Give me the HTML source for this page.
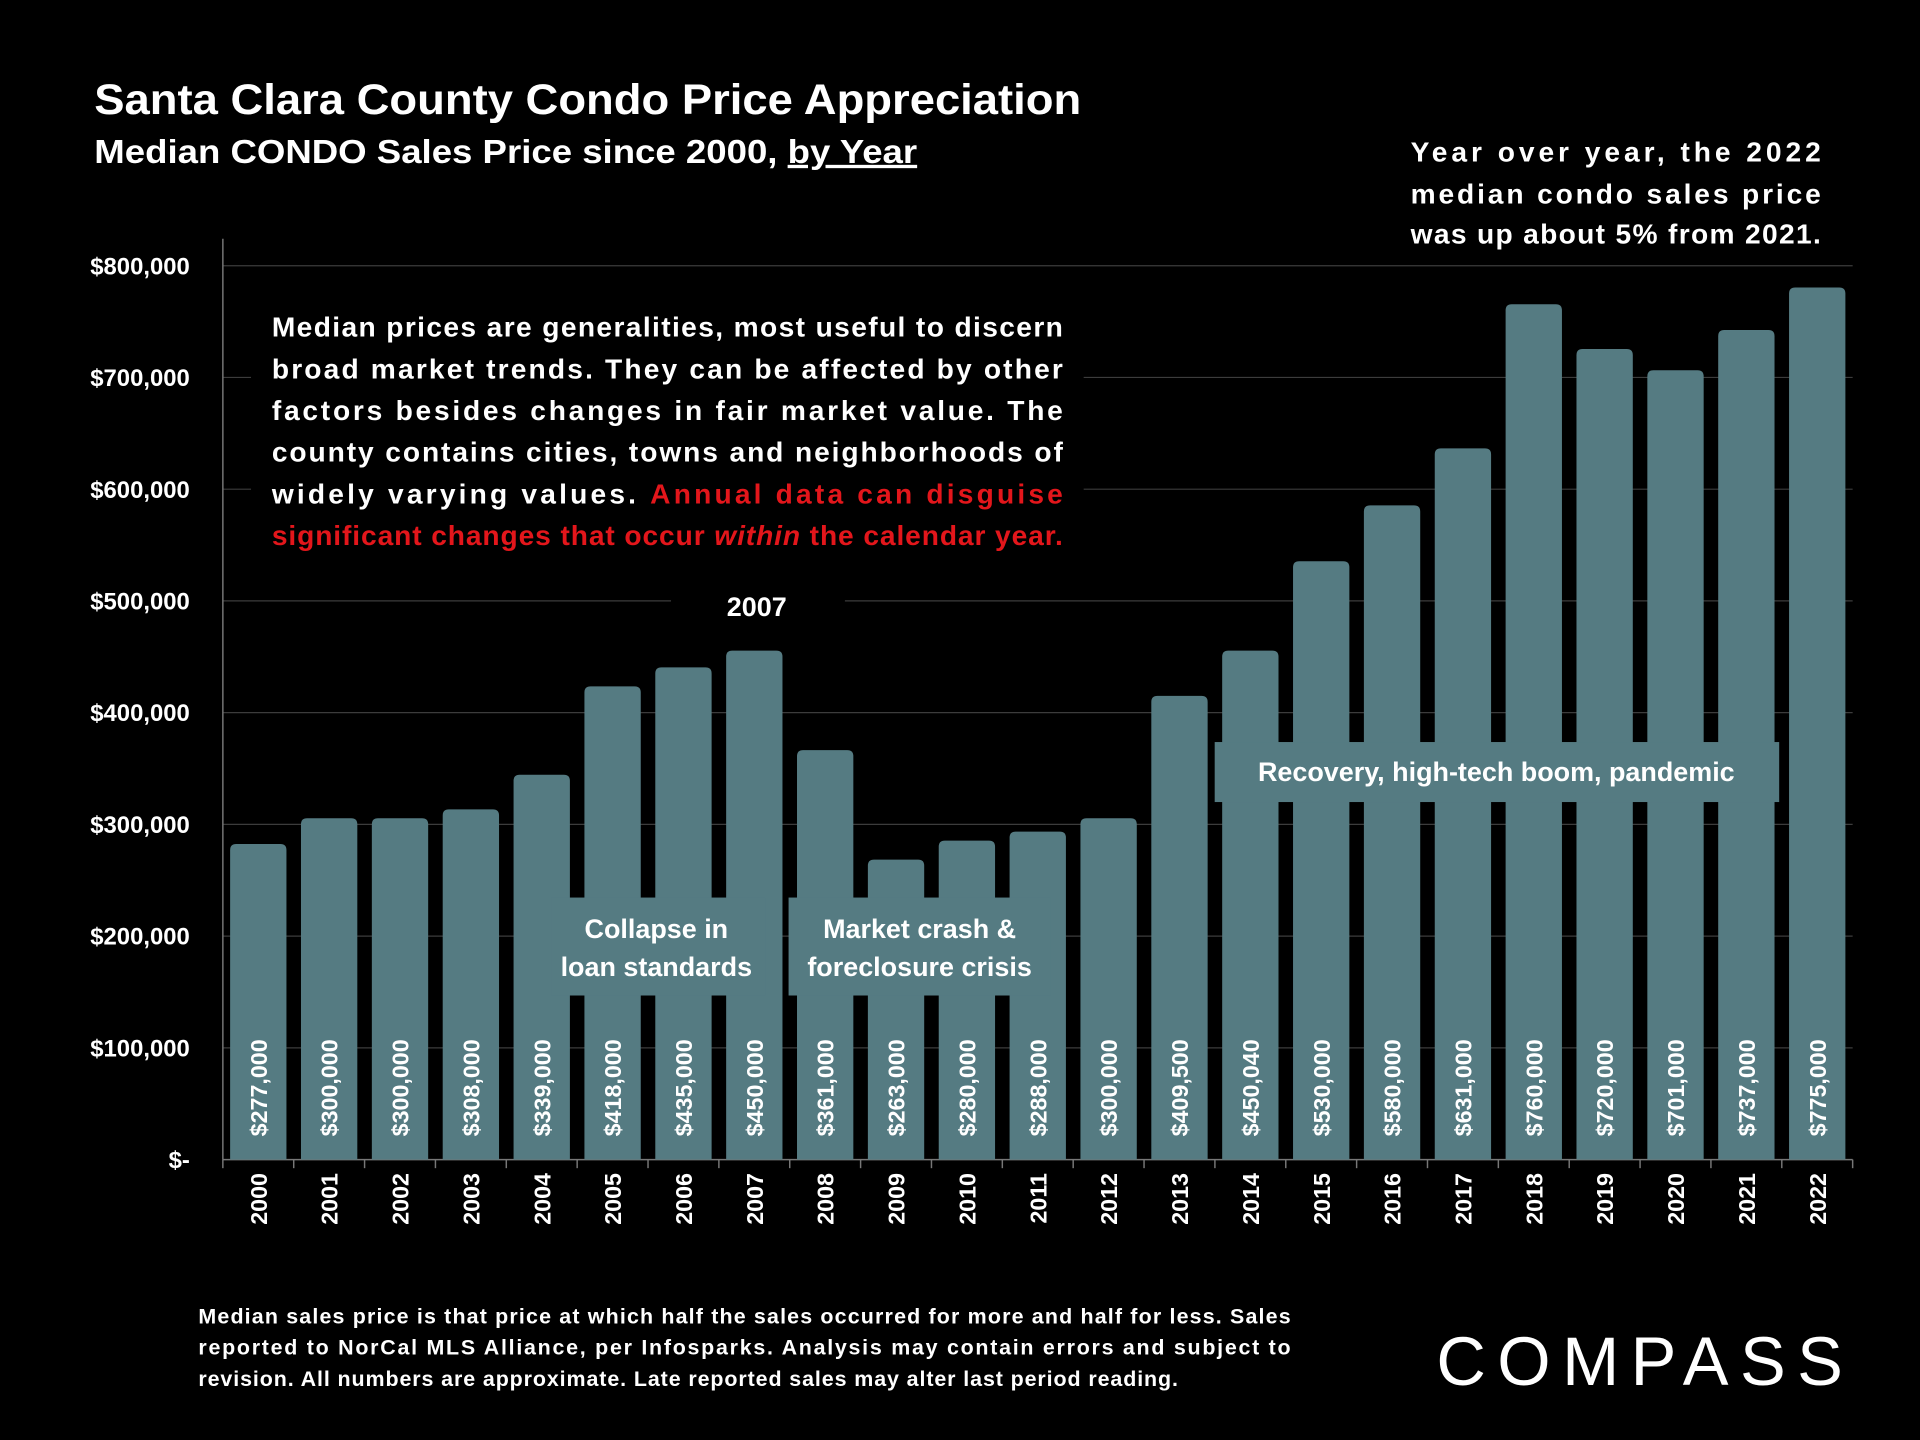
<!DOCTYPE html>
<html><head><meta charset="utf-8"><style>
html,body{margin:0;padding:0;background:#000;}
svg{display:block;font-family:"Liberation Sans",sans-serif;font-weight:bold;}
</style></head><body>
<svg id="chart" width="1920" height="1440" viewBox="0 0 1568 1176" xmlns="http://www.w3.org/2000/svg">
<rect x="0" y="0" width="1568" height="1176" fill="#000"/>
<g id="grid"></g>
<g id="bars"></g>
<text x="77" y="93" fill="#fff" font-size="35" textLength="806" lengthAdjust="spacingAndGlyphs">Santa Clara County Condo Price Appreciation</text>
<text x="77" y="133" fill="#fff" font-size="27" textLength="672" lengthAdjust="spacingAndGlyphs">Median CONDO Sales Price since 2000, <tspan text-decoration="underline">by Year</tspan></text>
<g fill="#fff" font-size="23">
<text x="1152" y="132" textLength="335" lengthAdjust="spacing">Year over year, the 2022</text>
<text x="1152" y="166" textLength="335" lengthAdjust="spacing">median condo sales price</text>
<text x="1152" y="199" textLength="335" lengthAdjust="spacing">was up about 5% from 2021.</text>
</g>
<rect x="205" y="245" width="680" height="215" fill="#000"/>
<g fill="#fff" font-size="23">
<text x="222" y="275" textLength="646" lengthAdjust="spacing">Median prices are generalities, most useful to discern</text>
<text x="222" y="309" textLength="646" lengthAdjust="spacing">broad market trends. They can be affected by other</text>
<text x="222" y="343" textLength="646" lengthAdjust="spacing">factors besides changes in fair market value. The</text>
<text x="222" y="377" textLength="646" lengthAdjust="spacing">county contains cities, towns and neighborhoods of</text>
<text x="222" y="411" textLength="646" lengthAdjust="spacing">widely varying values. <tspan fill="#e3161b">Annual data can disguise</tspan></text>
<text x="222" y="445" textLength="646" lengthAdjust="spacing" fill="#e3161b">significant changes that occur <tspan font-style="italic">within</tspan> the calendar year.</text>
</g>
<rect x="548" y="478" width="142" height="30" fill="#000"/>
<text x="618" y="503" fill="#fff" font-size="22" text-anchor="middle">2007</text>
<g id="annos"></g>
<g fill="#fff" font-size="17.5">
<text x="162" y="1081" textLength="892" lengthAdjust="spacing">Median sales price is that price at which half the sales occurred for more and half for less. Sales</text>
<text x="162" y="1106" textLength="892" lengthAdjust="spacing">reported to NorCal MLS Alliance, per Infosparks. Analysis may contain errors and subject to</text>
<text x="162" y="1132" textLength="800" lengthAdjust="spacing">revision. All numbers are approximate. Late reported sales may alter last period reading.</text>
</g>
<text x="1173" y="1131" fill="#fff" font-size="56" font-weight="normal" textLength="332" lengthAdjust="spacing">COMPASS</text>
</svg>
<script>
const years = ["2000","2001","2002","2003","2004","2005","2006","2007","2008","2009","2010","2011","2012","2013","2014","2015","2016","2017","2018","2019","2020","2021","2022"];
const prices = [277000,300000,300000,308000,339000,418000,435000,450000,361000,263000,280000,288000,300000,409500,450040,530000,580000,631000,760000,720000,701000,737000,775000];
const priceLabels = ["$277,000","$300,000","$300,000","$308,000","$339,000","$418,000","$435,000","$450,000","$361,000","$263,000","$280,000","$288,000","$300,000","$409,500","$450,040","$530,000","$580,000","$631,000","$760,000","$720,000","$701,000","$737,000","$775,000"];
const yTicks = [0,100000,200000,300000,400000,500000,600000,700000,800000];
const yTickLabels = ["$-","$100,000","$200,000","$300,000","$400,000","$500,000","$600,000","$700,000","$800,000"];
const NS="http://www.w3.org/2000/svg";
const x0=182, x1=1513, y0=947, ymaxPx=217, ymax=800000;
const step=(x1-x0)/years.length, bw=46;
const yS=v=>y0-(v/ymax)*(y0-ymaxPx);
const xC=i=>x0+step*(i+0.5);
function mk(tag,attrs,parent,txt){const e=document.createElementNS(NS,tag);for(const k in attrs)e.setAttribute(k,attrs[k]);if(txt!==undefined)e.textContent=txt;parent.appendChild(e);return e;}
const grid=document.getElementById('grid'), bars=document.getElementById('bars'), annos=document.getElementById('annos');
yTicks.forEach((t,i)=>{
  if(t>0){const l=mk('line',{x1:x0,x2:x1,y1:yS(t),y2:yS(t),stroke:'#3c3c3c','stroke-width':1},grid);
  
  }
  const tx=mk('text',{x:155,y:yS(t)+7,fill:'#fff','font-size':19.5,'text-anchor':'end'},grid,yTickLabels[i]);
  
  
});
const ax=mk('line',{x1:x0,x2:x0,y1:195,y2:y0,stroke:'#777','stroke-width':1.2},grid);


const xa=mk('line',{x1:x0,x2:x1,y1:y0,y2:y0,stroke:'#777','stroke-width':1.2},grid);


for(let i=0;i<=years.length;i++){mk('line',{x1:x0+step*i,x2:x0+step*i,y1:y0,y2:y0+7,stroke:'#777','stroke-width':1.2},grid);}
years.forEach((yr,i)=>{
  const cx=xC(i), top=yS(prices[i])-5;
  const r=mk('path',{d:`M${cx-bw/2},${y0} V${top+5} Q${cx-bw/2},${top} ${cx-bw/2+5},${top} H${cx+bw/2-5} Q${cx+bw/2},${top} ${cx+bw/2},${top+5} V${y0} Z`,fill:'#557b82'},bars);
  
  
  const v=mk('text',{x:0,y:0,transform:`translate(${cx+7},928) rotate(-90)`,fill:'#fff','font-size':19},bars,priceLabels[i]);
  
  
  const xl=mk('text',{x:0,y:0,transform:`translate(${cx+7},958) rotate(-90)`,fill:'#fff','font-size':19,'text-anchor':'end'},bars,yr);
  
  
});
function anno(name,x,y,w,h,lines,ly,cx){
  const g=mk('g',{},annos);
  
  
  mk('rect',{x:x,y:y,width:w,height:h,fill:'#557b82'},g);
  lines.forEach((t,i)=>mk('text',{x:cx,y:ly[i],fill:'#fff','font-size':22,'text-anchor':'middle'},g,t));
}
anno('annotation-collapse',450,733,175,80,['Collapse in','loan standards'],[766,797],536);
anno('annotation-crash',644,733,214,80,['Market crash &','foreclosure crisis'],[766,797],751);
anno('annotation-recovery',992,606,461,49,['Recovery, high-tech boom, pandemic'],[638],1222);
</script>
</body></html>
